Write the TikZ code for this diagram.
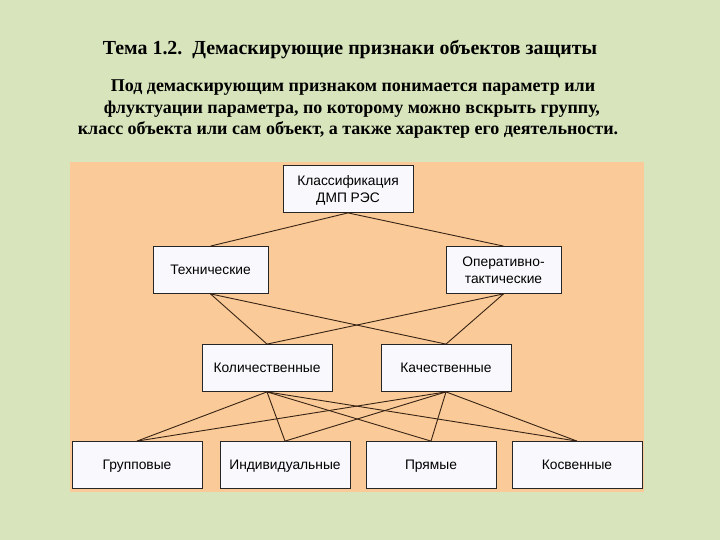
\documentclass[tikz,border=0pt]{standalone}
\usepackage{fontspec}
\setmainfont{Liberation Serif}
\newfontfamily\boxfont{Liberation Sans}
\newcommand{\bxs}{\rule[-3.4pt]{0pt}{16.4pt}}
\definecolor{bgc}{RGB}{216,228,188}
\definecolor{panelc}{RGB}{250,202,152}
\definecolor{boxfill}{RGB}{249,249,253}
\definecolor{linkc}{RGB}{55,35,20}
\begin{document}
\begin{tikzpicture}[x=1pt,y=-1pt,
  box/.style={draw=black!85, fill=boxfill, minimum height=47pt, inner sep=0pt,
    font=\boxfont\fontsize{13.8}{16.5}\selectfont, align=center, line width=0.8pt},
  wide/.style={minimum width=130pt},
  narrow/.style={minimum width=115pt},
  link/.style={draw=linkc, line width=0.9pt},
  ttl/.style={font=\bfseries\fontsize{19.9}{22}\selectfont, inner sep=0pt},
  para/.style={font=\bfseries\fontsize{18}{20}\selectfont, inner sep=0pt}]
\fill[bgc] (0,0) rectangle (720,540);
\useasboundingbox (0,0) rectangle (720,540);
\fill[panelc] (70,162) rectangle (644,492);

\node[ttl] (title) at (350,50) {Тема 1.2.\ \ Демаскирующие признаки объектов защиты};
\node[para] (p1) at (353,88) {Под демаскирующим признаком понимается параметр или};
\node[para] (p2) at (352,109) {флуктуации параметра, по которому можно вскрыть группу,};
\node[para] (p3) at (348,130) {класс объекта или сам объект, а также характер его деятельности.};

\node[box,wide] (k) at (348,189) {Классификация\bxs\\ДМП РЭС\bxs};
\node[box,narrow] (t) at (210.5,270) {Технические\bxs};
\node[box,narrow] (o) at (503.5,270) {Оперативно-\bxs\\тактические\bxs};
\node[box,wide] (q) at (267,368) {Количественные\bxs};
\node[box,wide] (c) at (446,368) {Качественные\bxs};
\node[box,wide] (g) at (137,465) {Групповые\bxs};
\node[box,wide] (i) at (285,465) {Индивидуальные\bxs};
\node[box,wide] (p) at (431,465) {Прямые\bxs};
\node[box,wide] (s) at (577,465) {Косвенные\bxs};

\foreach \a/\b in {k/t,k/o,t/q,t/c,o/q,o/c,q/g,q/i,q/p,q/s,c/g,c/i,c/p,c/s}
  \draw[link] (\a.south) -- (\b.north);
\end{tikzpicture}
\end{document}
